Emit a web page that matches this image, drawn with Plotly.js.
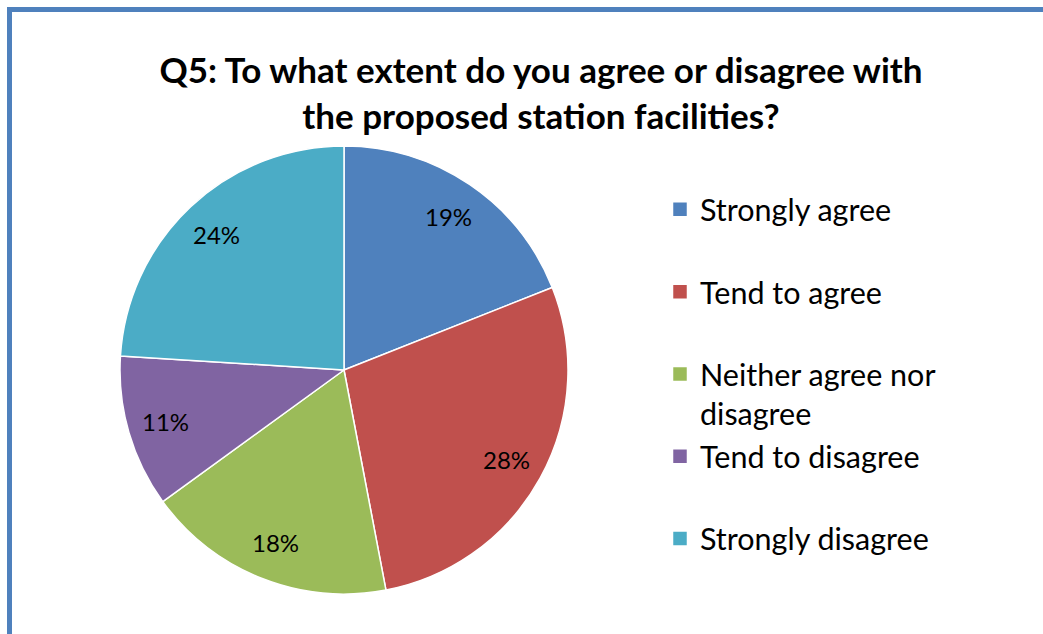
<!DOCTYPE html>
<html>
<head>
<meta charset="utf-8">
<script src="https://cdn.plot.ly/plotly-3.0.1.min.js"></script>
<style>
  html, body { margin: 0; padding: 0; background: #ffffff; }
  #chart { width: 1043px; height: 634px; }
</style>
</head>
<body>
<div id="chart"></div>
<script>
// ---- data ----
const categories = [
  "Strongly agree",
  "Tend to agree",
  "Neither agree nor<br>disagree",
  "Tend to disagree",
  "Strongly disagree"
];
const shares = [19, 28, 18, 11, 24];
const sliceColors = ["#4F81BD", "#C0504D", "#9BBB59", "#8064A2", "#4BACC6"];
const chartTitle = "Q5: To what extent do you agree or disagree with<br>the proposed station facilities?";

// legend entries: pad one-line names to two lines so rows are evenly spaced
const legendNames = categories.map(c => c.indexOf("<br>") >= 0 ? c : c + "<br> ");

const W = 1043, H = 634;
const cx = 344, cy = 370, R = 224;
const FONT = "Lato, 'Open Sans', sans-serif";

const trace = {
  type: "pie",
  labels: legendNames,
  values: shares,
  sort: false,
  direction: "clockwise",
  rotation: 0,
  marker: { colors: sliceColors, line: { color: "#ffffff", width: 1.5 } },
  textinfo: "none",
  hoverinfo: "label+percent",
  domain: { x: [(cx - R) / W, (cx + R) / W], y: [(H - cy - R) / H, (H - cy + R) / H] }
};

// percentage labels placed (Excel-style) at 83% of the radius on each slice's mid-angle
const total = shares.reduce((a, b) => a + b, 0);
let cum = 0;
const labelAnnotations = shares.map(v => {
  const mid = (cum + v / 2) / total * 2 * Math.PI;
  cum += v;
  const px = cx + 0.83 * R * Math.sin(mid);
  const py = cy - 0.83 * R * Math.cos(mid);
  return {
    xref: "paper", yref: "paper",
    x: px / W, y: 1 - py / H,
    xanchor: "center", yanchor: "middle",
    text: Math.round(v / total * 100) + "%",
    showarrow: false,
    font: { family: FONT, size: 24, color: "#000000" }
  };
});

const layout = {
  width: W,
  height: H,
  margin: { l: 0, r: 0, t: 0, b: 0 },
  paper_bgcolor: "#ffffff",
  plot_bgcolor: "#ffffff",
  font: { family: FONT, color: "#000000" },
  title: {
    text: "<b>" + chartTitle + "</b>",
    font: { family: FONT, size: 35, color: "#000000" },
    x: 541 / W,
    xanchor: "center",
    y: 1 - 83 / H,
    yanchor: "top"
  },
  showlegend: true,
  legend: {
    x: 660 / W,
    xanchor: "left",
    y: 1 - 394 / H,
    yanchor: "middle",
    valign: "top",
    font: { family: FONT, size: 30.5, color: "#000000" },
    bgcolor: "rgba(0,0,0,0)",
    borderwidth: 0
  },
  annotations: labelAnnotations,
  shapes: [{
    type: "rect",
    xref: "paper", yref: "paper",
    x0: 9.5 / W, x1: 1.05,
    y0: -0.05, y1: 1 - 9.5 / H,
    line: { color: "#4F81BD", width: 5 },
    fillcolor: "rgba(0,0,0,0)",
    layer: "above"
  }]
};

Plotly.newPlot("chart", [trace], layout, { displayModeBar: false, staticPlot: true }).then(() => {
  // slightly larger legend swatches, as in the reference
  document.querySelectorAll("#chart .legendpie").forEach(p => p.setAttribute("d", "M7.5,7.5H-7.5V-7.5H7.5Z"));
});
</script>
</body>
</html>
